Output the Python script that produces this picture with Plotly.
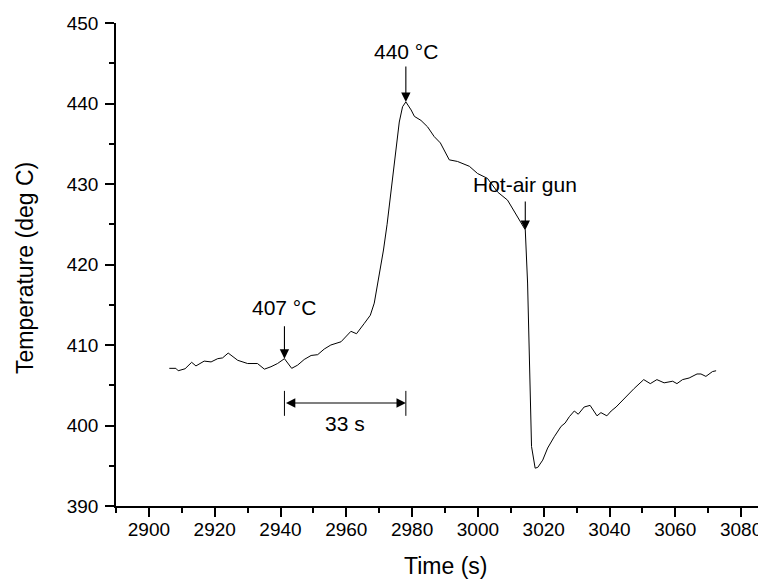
import plotly.graph_objects as go

# ---- data ----
time_s = [2906.2, 2908.2, 2908.9, 2911.0, 2913.0, 2914.3, 2916.8, 2918.9, 2920.9, 2922.4,
          2924.1, 2927.0, 2930.0, 2933.0, 2935.1, 2937.1, 2939.1, 2941.2, 2943.4, 2945.2,
          2947.2, 2949.3, 2951.3, 2953.3, 2955.3, 2958.4, 2961.4, 2963.1, 2965.5, 2967.3,
          2968.5, 2970.0, 2971.3, 2972.4, 2973.3, 2974.1, 2975.1, 2976.1, 2977.1, 2978.1,
          2979.7, 2980.7, 2982.7, 2984.7, 2986.7, 2988.6, 2991.3, 2993.8, 2997.4, 2999.9,
          3002.9, 3006.0, 3009.0, 3012.1, 3014.4, 3015.1, 3015.6, 3016.0, 3016.3, 3017.4,
          3018.2, 3019.7, 3021.2, 3023.2, 3025.3, 3026.5, 3027.8, 3029.3, 3030.5, 3032.3,
          3034.1, 3036.2, 3037.4, 3039.2, 3040.5, 3042.0, 3044.5, 3047.5, 3050.4, 3052.4,
          3054.4, 3056.6, 3059.2, 3060.5, 3062.2, 3064.2, 3066.6, 3067.8, 3069.3, 3071.3,
          3072.4]
temp_c = [407.1, 407.1, 406.8, 407.05, 407.85, 407.4, 408.0, 407.9, 408.3, 408.4,
          409.0, 408.1, 407.7, 407.7, 407.0, 407.3, 407.7, 408.3, 407.1, 407.5,
          408.2, 408.7, 408.8, 409.5, 410.0, 410.4, 411.7, 411.4, 412.7, 413.7,
          415.2, 418.5, 421.8, 425.0, 428.0, 430.9, 434.6, 437.7, 439.6, 440.2,
          439.2, 438.4, 437.9, 437.1, 435.9, 435.1, 433.0, 432.8, 432.2, 431.3,
          430.7, 429.0, 428.0, 425.9, 424.3, 417.7, 409.4, 400.0, 397.4, 394.7,
          394.8, 395.7, 397.2, 398.6, 399.9, 400.3, 401.1, 401.8, 401.4, 402.3,
          402.5, 401.2, 401.6, 401.2, 401.8, 402.3, 403.4, 404.6, 405.7, 405.2,
          405.7, 405.3, 405.5, 405.2, 405.7, 405.9, 406.4, 406.4, 406.1, 406.7,
          406.8]

# annotated events
onset_time, onset_temp = 2941.2, 408.3
peak_time, peak_temp = 2978.1, 440.2
gun_time, gun_temp = 3014.4, 424.3
interval_y = 402.8
interval_label = "33 s"

x_ticks = [2900, 2920, 2940, 2960, 2980, 3000, 3020, 3040, 3060, 3080]
y_ticks = [390, 400, 410, 420, 430, 440, 450]

FONT = "Liberation Sans, Arial, sans-serif"

fig = go.Figure()
fig.add_trace(go.Scatter(x=time_s, y=temp_c, mode="lines",
                         line=dict(color="black", width=1), showlegend=False,
                         hoverinfo="skip"))

# the page body has an 8px margin, so the figure sits 8px right/down in the window
OFF = 8
L, T, W, H = 116 - OFF, 23 - OFF, 658, 483  # plot area (px, figure coords)

def px_x(p):  # window px -> paper
    return (p - OFF - L) / W

def px_y(p):
    return (T + H - (p - OFF)) / H

arrow_common = dict(showarrow=True, arrowhead=2, arrowsize=1.7, arrowwidth=1.1,
                    arrowcolor="black", text="", ax=0, standoff=0, startstandoff=0)

ann_font = dict(family=FONT, size=21, color="black")
title_font = dict(family=FONT, size=23, color="black")

annotations = [
    # arrows
    dict(x=peak_time, y=peak_temp, xref="x", yref="y", ay=-37, **arrow_common),
    dict(x=onset_time, y=onset_temp, xref="x", yref="y", ay=-34, **arrow_common),
    dict(x=gun_time, y=gun_temp, xref="x", yref="y", ay=-30, **arrow_common),
    # labels
    dict(x=peak_time, y=446.4, xref="x", yref="y", text="440 °C", showarrow=False,
         xanchor="center", yanchor="middle", font=ann_font),
    dict(x=onset_time, y=414.7, xref="x", yref="y", text="407 °C", showarrow=False,
         xanchor="center", yanchor="middle", font=ann_font),
    dict(x=gun_time, y=430.0, xref="x", yref="y", text="Hot-air gun", showarrow=False,
         xanchor="center", yanchor="middle", font=ann_font),
    dict(x=(onset_time + peak_time) / 2, y=400.3, xref="x", yref="y", text=interval_label,
         showarrow=False, xanchor="center", yanchor="middle", font=ann_font),
    # double arrow
    dict(x=peak_time, y=interval_y, ax=onset_time, ay=interval_y, xref="x", yref="y",
         axref="x", ayref="y", text="", showarrow=True, arrowhead=2, arrowside="end+start",
         arrowsize=1.7, arrowwidth=1.1, arrowcolor="black", standoff=0, startstandoff=0),
    # axis titles
    dict(x=px_x(445), y=px_y(566), xref="paper", yref="paper", text="Time (s)",
         xanchor="center", yanchor="middle", showarrow=False, font=title_font),
    dict(x=px_x(25), y=px_y(268), xref="paper", yref="paper", text="Temperature (deg C)",
         xanchor="center", yanchor="middle", textangle=-90, showarrow=False,
         font=title_font),
]

shapes = [
    dict(type="line", xref="x", yref="y", x0=onset_time, x1=onset_time, y0=401.2, y1=404.3,
         line=dict(color="black", width=1)),
    dict(type="line", xref="x", yref="y", x0=peak_time, x1=peak_time, y0=401.2, y1=404.3,
         line=dict(color="black", width=1)),
]

FIG_W, FIG_H = 766, 579

fig.update_layout(
    width=FIG_W, height=FIG_H,
    margin=dict(l=L, r=FIG_W - L - W, t=T, b=FIG_H - T - H, pad=0, autoexpand=False),
    paper_bgcolor="white", plot_bgcolor="white",
    font=dict(family=FONT, size=19, color="black"),
    annotations=annotations, shapes=shapes,
    xaxis=dict(range=[2890, 3090], tickmode="array", tickvals=x_ticks,
               ticktext=[str(v) for v in x_ticks], automargin=False,
               showline=True, linecolor="black", linewidth=1.5, ticks="outside",
               ticklen=9, tickwidth=1.5, tickcolor="black", showgrid=False, zeroline=False,
               tickfont=dict(family=FONT, size=19, color="black"), ticklabelstandoff=-4,
               minor=dict(ticks="outside", ticklen=5, tickwidth=1.5, tickcolor="black",
                          tickvals=[2890 + 20 * i for i in range(11)], showgrid=False)),
    yaxis=dict(range=[390, 450], tickmode="array", tickvals=y_ticks,
               ticktext=[str(v) for v in y_ticks], automargin=False,
               showline=True, linecolor="black", linewidth=1.5, ticks="outside",
               ticklen=9, tickwidth=1.5, tickcolor="black", showgrid=False, zeroline=False,
               tickfont=dict(family=FONT, size=19, color="black"), ticklabelstandoff=3,
               minor=dict(ticks="outside", ticklen=5, tickwidth=1.5, tickcolor="black",
                          tickvals=[395, 405, 415, 425, 435, 445], showgrid=False)),
)

fig.write_html("out.html")
